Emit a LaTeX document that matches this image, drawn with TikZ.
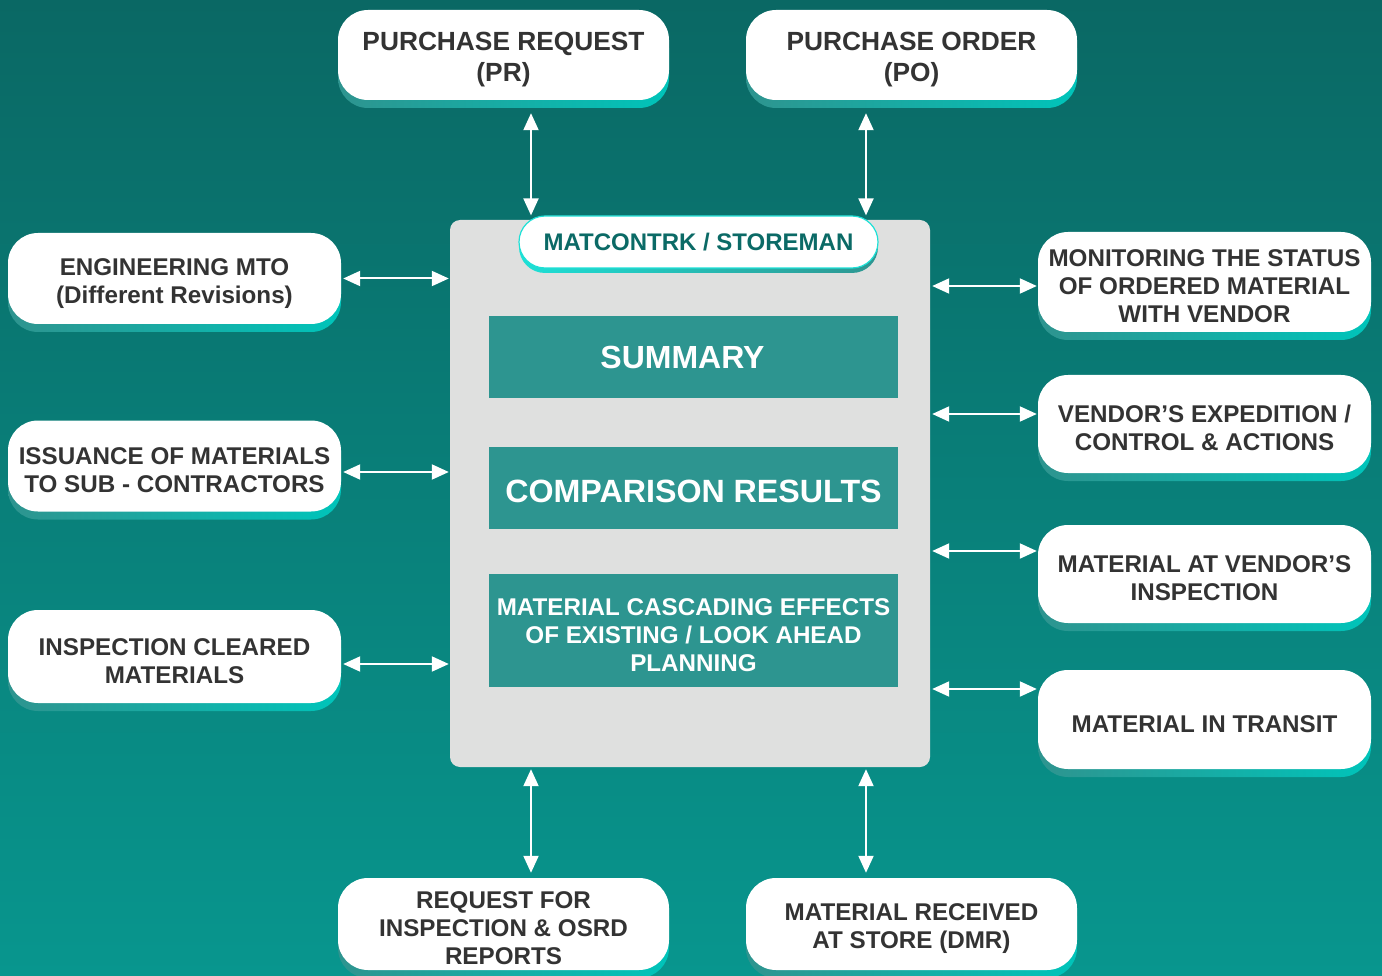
\documentclass[tikz,border=0pt]{standalone}
\usepackage{fontspec}
\setmainfont{Liberation Sans}
\usetikzlibrary{arrows.meta}
\usetikzlibrary{shadows}

\definecolor{bgtop}{RGB}{10,104,100}
\definecolor{bgbot}{RGB}{8,150,142}
\definecolor{shadeL}{RGB}{46,148,143}
\definecolor{shadeR}{RGB}{0,196,186}
\definecolor{pillcyan}{RGB}{30,224,214}
\definecolor{pillteal}{RGB}{46,150,145}
\definecolor{panelgray}{RGB}{223,224,223}
\definecolor{tealbox}{RGB}{45,149,144}
\definecolor{txtgray}{RGB}{51,51,51}
\definecolor{txtteal}{RGB}{11,106,102}

% extra room above the first line of a label
\newcommand{\topgap}{\rule{0pt}{1.08em}}

\tikzset{
    outbox/.style={rectangle, rounded corners=30pt, fill=white, inner sep=0pt,
        minimum width=333pt, minimum height=91pt, align=center, text=txtgray,
        font=\fontsize{24.2}{28}\selectfont\bfseries,
        general shadow={shadow yshift=-8pt, left color=shadeL, right color=shadeR}},
    bigbox/.style={outbox, minimum width=331pt, minimum height=90pt,
        font=\fontsize{26.3}{31}\selectfont\bfseries},
    hubpill/.style={rectangle, rounded corners=26pt, fill=white, draw=pillcyan,
        line width=1.2pt, minimum width=359pt, minimum height=52pt, inner sep=0pt,
        text=txtteal, font=\fontsize{24}{28}\selectfont\bfseries,
        general shadow={shadow yshift=-5pt, left color=pillcyan, right color=pillteal}},
    tealpanel/.style={rectangle, fill=tealbox, minimum width=409pt, inner sep=0pt,
        align=center, text=white},
    link/.style={{Triangle[width=15pt,length=17pt]}-{Triangle[width=15pt,length=17pt]},
        draw=white, line width=2pt}
}

\begin{document}
\begin{tikzpicture}[x=1pt,y=-1pt]
    \useasboundingbox (0,0) rectangle (1382,976);
    \fill[top color=bgtop, bottom color=bgbot] (0,0) rectangle (1382,976);

    % central panel
    \node[rectangle, rounded corners=10pt, fill=panelgray, minimum width=480pt,
        minimum height=547pt, inner sep=0pt] (panel) at (690,493.5) {};
    \node[hubpill] (hdr) at (698.5,242) {MATCONTRK / STOREMAN};
    \node[tealpanel, minimum height=82pt, font=\fontsize{32}{36}\selectfont\bfseries]
        (summary) at (693.5,357) {SUMMARY\hspace*{22pt}};
    \node[tealpanel, minimum height=82pt, font=\fontsize{32.2}{36}\selectfont\bfseries]
        (compare) at (693.5,488) {\rule{0pt}{29pt}COMPARISON RESULTS};
    \node[tealpanel, minimum height=113pt, font=\fontsize{24.2}{28}\selectfont\bfseries]
        (cascade) at (693.5,630.5) {\topgap MATERIAL CASCADING EFFECTS\\OF EXISTING / LOOK AHEAD\\PLANNING};

    % top and bottom
    \node[bigbox] (pr) at (503.5,55) {\topgap PURCHASE REQUEST\\(PR)};
    \node[bigbox] (po) at (911.5,55) {\topgap PURCHASE ORDER\\(PO)};
    \node[outbox, minimum width=331pt, minimum height=92pt] (rfi) at (503.5,924)
        {\topgap REQUEST FOR\\INSPECTION \& OSRD\\REPORTS};
    \node[outbox, minimum width=331pt, minimum height=92pt] (mrs) at (911.5,924)
        {\topgap MATERIAL RECEIVED\\AT STORE (DMR)};

    % left column
    \node[outbox] (mto) at (174.5,278.5) {\topgap ENGINEERING MTO\\(Different Revisions)};
    \node[outbox] (issue) at (174.5,466) {\topgap ISSUANCE OF MATERIALS\\TO SUB - CONTRACTORS};
    \node[outbox, minimum height=93pt] (cleared) at (174.5,656.5) {\topgap INSPECTION CLEARED\\MATERIALS};

    % right column
    \node[outbox, minimum height=100pt] (monitor) at (1204.5,282)
        {\topgap MONITORING THE STATUS\\OF ORDERED MATERIAL\\WITH VENDOR};
    \node[outbox, minimum height=98pt] (expedite) at (1204.5,424)
        {\topgap VENDOR’S EXPEDITION /\\CONTROL \& ACTIONS};
    \node[outbox, minimum height=98pt] (vinsp) at (1204.5,574)
        {\topgap MATERIAL AT VENDOR’S\\INSPECTION};
    \node[outbox, minimum height=99pt] (transit) at (1204.5,719.5) {\topgap MATERIAL IN TRANSIT};

    % connectors
    \coordinate (colA) at (531,0);
    \coordinate (colB) at (866,0);
    \draw[link, shorten <=13pt] (pr.south -| colA) -- (hdr.north -| colA);
    \draw[link, shorten <=13pt] (po.south -| colB) -- (hdr.north -| colB);
    \draw[link, shorten <=2pt, shorten >=5pt] (panel.south -| colA) -- (rfi.north -| colA);
    \draw[link, shorten <=2pt, shorten >=5pt] (panel.south -| colB) -- (mrs.north -| colB);

    \draw[link, shorten <=2pt, shorten >=1pt] (mto.east) -- (mto.east -| panel.west);
    \draw[link, shorten <=2pt, shorten >=1pt] ([yshift=-6pt]issue.east) -- ([yshift=-6pt]issue.east -| panel.west);
    \draw[link, shorten <=2pt, shorten >=1pt] ([yshift=-7.5pt]cleared.east) -- ([yshift=-7.5pt]cleared.east -| panel.west);

    \draw[link, shorten <=2pt, shorten >=1pt] ([yshift=-4pt]monitor.west -| panel.east) -- ([yshift=-4pt]monitor.west);
    \draw[link, shorten <=2pt, shorten >=1pt] ([yshift=10pt]expedite.west -| panel.east) -- ([yshift=10pt]expedite.west);
    \draw[link, shorten <=2pt, shorten >=1pt] ([yshift=23pt]vinsp.west -| panel.east) -- ([yshift=23pt]vinsp.west);
    \draw[link, shorten <=2pt, shorten >=1pt] ([yshift=30.5pt]transit.west -| panel.east) -- ([yshift=30.5pt]transit.west);
\end{tikzpicture}
\end{document}
